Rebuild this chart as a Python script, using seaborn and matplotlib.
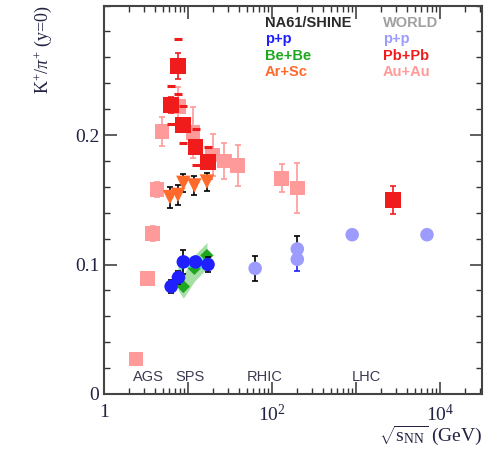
import numpy as np
import pandas as pd
import matplotlib
matplotlib.use("Agg")
import matplotlib.pyplot as plt
import seaborn as sns
from matplotlib.ticker import LogLocator, FixedLocator, FixedFormatter, MultipleLocator, NullFormatter

# ---------------- data ----------------
pp_na61_x = [6.3, 7.7, 8.8, 12.3, 17.3]
pp_na61_y = [0.083, 0.090, 0.102, 0.102, 0.100]
pp_na61_err = [0.005, 0.005, 0.009, 0.004, 0.006]

bebe_x = [7.6, 8.8, 11.9, 16.8]
bebe_y = [0.0905, 0.083, 0.097, 0.107]
bebe_sys = [0.010, 0.009, 0.010, 0.010]

arsc_x = [6.1, 7.6, 8.8, 11.9, 16.8]
arsc_y = [0.152, 0.1537, 0.163, 0.161, 0.164]
arsc_err = [0.008, 0.008, 0.007, 0.007, 0.007]

pbpb_x = [6.3, 7.6, 8.8, 12.3, 17.3, 2760]
pbpb_y = [0.223, 0.253, 0.208, 0.191, 0.179, 0.150]
pbpb_stat = [0.006, 0.010, 0.005, 0.005, 0.004, 0.011]
pbpb_sys = [0.0145, 0.021, 0.0145, 0.014, 0.012, 0.0]

auau_x = [2.4, 3.3, 3.8, 4.3, 4.9, 7.7, 11.5, 19.6, 27, 39, 130, 200]
auau_y = [0.027, 0.089, 0.124, 0.158, 0.2026, 0.222, 0.202, 0.1846, 0.180, 0.1763, 0.1666, 0.159]
auau_err = [0.003, 0.004, 0.006, 0.006, 0.011, 0.015, 0.020, 0.016, 0.014, 0.016, 0.011, 0.019]

world_pp_x = [63, 200, 200, 900, 7000]
world_pp_y = [0.097, 0.112, 0.104, 0.123, 0.123]
world_pp_err = [0.0097, 0.010, 0.009, 0.0, 0.0]

region_labels = ["AGS", "SPS", "RHIC", "LHC"]
region_x = [2.2, 7.0, 50, 900]

x_tick_vals = [1, 10, 100, 1000, 10000]
x_tick_labels = ["1", "", r"$10^{2}$", "", r"$10^{4}$"]
y_tick_vals = [0, 0.1, 0.2]
y_tick_labels = ["0", "0.1", "0.2"]

# ---------------- colours ----------------
C_PB = "#f01c1c"
C_AU = "#ff9a9a"
C_PP = "#1f1fff"
C_WPP = "#9c9cff"
C_BE = "#1fa81f"
C_AR = "#ff6a2a"

sns.set_style("ticks")
plt.rcParams["font.family"] = ["Liberation Serif", "DejaVu Serif"]
plt.rcParams["mathtext.fontset"] = "custom"
plt.rcParams["mathtext.rm"] = "Liberation Serif"
plt.rcParams["mathtext.it"] = "Liberation Serif:italic"

fig = plt.figure(figsize=(4.87, 4.69), dpi=100)
ax = fig.add_axes([104/487, 1-394/469, (482-104)/487, (394-5.5)/469])

# Au+Au (world) pink squares
ax.errorbar(auau_x, auau_y, yerr=auau_err, fmt="none", ecolor=C_AU, elinewidth=1.2,
            capsize=2.5, capthick=1.2, zorder=2)
sns.scatterplot(x=auau_x, y=auau_y, marker="s", s=110, color=C_AU, edgecolor="none",
                ax=ax, zorder=3, legend=False)

# Pb+Pb red squares with sys dashes
pb_lo = [y - s for y, s in zip(pbpb_y, pbpb_sys) if s > 0]
pb_hi = [y + s for y, s in zip(pbpb_y, pbpb_sys) if s > 0]
pb_sx = [x for x, s in zip(pbpb_x, pbpb_sys) if s > 0]
ax.scatter(pb_sx + pb_sx, pb_lo + pb_hi, marker="_", s=30, color=C_PB, linewidths=2.2, zorder=4)
ax.errorbar(pbpb_x, pbpb_y, yerr=pbpb_stat, fmt="none", ecolor=C_PB, elinewidth=1.2,
            capsize=2.5, capthick=1.2, zorder=4)
sns.scatterplot(x=pbpb_x, y=pbpb_y, marker="s", s=130, color=C_PB, edgecolor="none",
                ax=ax, zorder=5, legend=False)

# Be+Be green band and points
ax.fill_between(bebe_x, [y - s for y, s in zip(bebe_y, bebe_sys)],
                [y + s for y, s in zip(bebe_y, bebe_sys)], color="#7fd27f", alpha=0.7,
                linewidth=0, zorder=5)
sns.scatterplot(x=bebe_x, y=bebe_y, marker="D", s=45, color=C_BE, edgecolor="none",
                ax=ax, zorder=6, legend=False)

# NA61 p+p blue circles with cyan band
ax.fill_between(pp_na61_x, [y - 0.004 for y in pp_na61_y], [y + 0.004 for y in pp_na61_y],
                color="#33e6ff", alpha=0.8, linewidth=0, zorder=6)
ax.errorbar(pp_na61_x, pp_na61_y, yerr=pp_na61_err, fmt="none", ecolor="black", elinewidth=1.2,
            capsize=2.5, capthick=1.2, zorder=6)
sns.scatterplot(x=pp_na61_x, y=pp_na61_y, marker="o", s=95, color=C_PP, edgecolor="none",
                ax=ax, zorder=7, legend=False)

# Ar+Sc orange triangles
ax.errorbar(arsc_x, arsc_y, yerr=arsc_err, fmt="none", ecolor="black", elinewidth=1.2,
            capsize=2.5, capthick=1.2, zorder=7)
sns.scatterplot(x=arsc_x, y=arsc_y, marker="v", s=110, color=C_AR, edgecolor="none",
                ax=ax, zorder=8, legend=False)

# World p+p light blue circles
ecols = ["black", "black", "#2020ff", "black", "black"]
for x, y, e, c in zip(world_pp_x, world_pp_y, world_pp_err, ecols):
    if e > 0:
        ax.errorbar([x], [y], yerr=[e], fmt="none", ecolor=c, elinewidth=1.2,
                    capsize=2.5, capthick=1.2, zorder=3)
sns.scatterplot(x=world_pp_x, y=world_pp_y, marker="o", s=95, color=C_WPP, edgecolor="none",
                ax=ax, zorder=4, legend=False)

# axes
ax.set_xscale("log")
ax.set_xlim(1, 3.16e4)
ax.set_ylim(0, 0.3)
ax.xaxis.set_major_locator(FixedLocator(x_tick_vals))
ax.xaxis.set_major_formatter(FixedFormatter(x_tick_labels))
ax.xaxis.set_minor_locator(LogLocator(base=10, subs=np.arange(2, 10), numticks=20))
ax.xaxis.set_minor_formatter(NullFormatter())
ax.yaxis.set_major_locator(FixedLocator(y_tick_vals))
ax.yaxis.set_major_formatter(FixedFormatter(y_tick_labels))
ax.yaxis.set_minor_locator(MultipleLocator(0.02))
ax.tick_params(which="both", direction="in", top=True, right=True, colors="#333333",
               labelcolor="#222244", labelsize=14)
ax.tick_params(which="major", length=9, width=1.1)
ax.tick_params(which="minor", length=4.5, width=1.0)
ax.tick_params(axis="x", which="major", pad=7)
for sp in ax.spines.values():
    sp.set_color("#444444")
    sp.set_linewidth(1.5)

ax.text(-0.19, 1.0, r"K$^{+}$/$\pi^{+}$ (y=0)", transform=ax.transAxes, rotation=90,
        ha="right", va="top", fontsize=13, color="#222244", rotation_mode="anchor")
ax.text(1.0, -0.075, r"$\sqrt{\mathrm{s}_{\mathrm{NN}}}$ (GeV)", transform=ax.transAxes,
        ha="right", va="top", fontsize=14, color="#222244")

for lab, x in zip(region_labels, region_x):
    ax.text(x, 0.0135, lab, fontsize=10.5, family="Liberation Sans", color="#3a3a50",
            ha="left", va="center")

sans = "Liberation Sans"
leg1 = [("NA61/SHINE", "#2a2a2a"), ("p+p", C_PP), ("Be+Be", C_BE), ("Ar+Sc", C_AR)]
leg2 = [("WORLD", "#a0a0a0"), ("p+p", C_WPP), ("Pb+Pb", C_PB), ("Au+Au", C_AU)]
rows_px = [23, 39, 56, 72]
for (t1, c1), (t2, c2), ry in zip(leg1, leg2, rows_px):
    fig.text(265/487, 1 - ry/469, t1, fontsize=10.5, weight="bold", family=sans,
             color=c1, ha="left", va="center")
    fig.text(383/487, 1 - ry/469, t2, fontsize=10.5, weight="bold", family=sans,
             color=c2, ha="left", va="center")

fig.savefig("out.png", dpi=100)
